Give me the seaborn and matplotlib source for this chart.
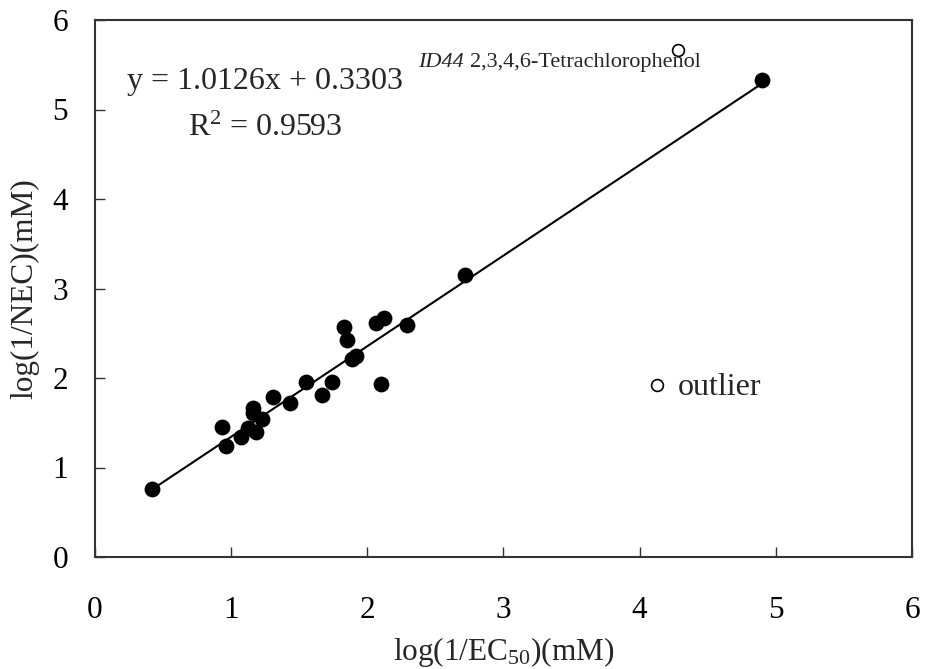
import matplotlib
matplotlib.use("Agg")
import matplotlib.pyplot as plt
import seaborn as sns
import numpy as np
import pandas as pd

# log(1/EC50) vs log(1/NEC) for the fitted compounds
ec50 = [0.42, 0.93, 0.96, 1.07, 1.12, 1.18, 1.16, 1.16, 1.23, 1.31, 1.43,
        1.55, 1.67, 1.74, 1.83, 1.85, 1.89, 1.92, 2.06, 2.12, 2.10, 2.29,
        2.72, 4.90]
nec = [0.76, 1.45, 1.24, 1.34, 1.44, 1.40, 1.67, 1.61, 1.54, 1.79, 1.72,
       1.95, 1.81, 1.96, 2.57, 2.42, 2.21, 2.25, 2.61, 2.67, 1.93, 2.59,
       3.15, 5.33]

# excluded points (open circles)
out_ec50 = [4.28, 4.13]
out_nec = [5.67, 1.92]

# regression fit
slope = 1.0126
intercept = 0.3303
r2 = 0.9593

sns.set_style("ticks")
plt.rcParams["font.family"] = ["Liberation Serif", "DejaVu Serif"]
plt.rcParams["mathtext.fontset"] = "custom"
plt.rcParams["mathtext.rm"] = "Liberation Serif"
plt.rcParams["mathtext.it"] = "Liberation Serif:italic"

fig = plt.figure(figsize=(9.25, 6.69), dpi=100)
ax = fig.add_axes([95 / 925, 1 - 557 / 669, (912 - 95) / 925, (557 - 20) / 669])

df = pd.DataFrame({"x": ec50, "y": nec})
xl = np.array([min(ec50), max(ec50)])
line = pd.DataFrame({"x": xl, "y": slope * xl + intercept})
sns.lineplot(data=line, x="x", y="y", ax=ax, color="black", linewidth=1.5)
sns.scatterplot(data=df, x="x", y="y", ax=ax, color="black", s=130,
                edgecolor="black", linewidth=0, zorder=3)
odf = pd.DataFrame({"x": out_ec50, "y": out_nec})
sns.scatterplot(data=odf, x="x", y="y", ax=ax, facecolor="white",
                edgecolor="black", s=72, linewidth=1.2, zorder=3)

ax.set_xlim(0, 6)
ax.set_ylim(0, 6)
ax.set_xticks(range(7))
ax.set_yticks(range(7))
ax.tick_params(direction="in", length=7.5, width=1, labelsize=22.5,
               colors="#333333", labelcolor="black")
ax.tick_params(axis="x", pad=28)
ax.tick_params(axis="y", pad=19.5)
for s in ax.spines.values():
    s.set_linewidth(1.5)
    s.set_color("#333333")

ax.set_xlabel("log(1/EC$_{50}$)(mM)", fontsize=22.5, labelpad=7)
ax.set_ylabel("log(1/NEC)(mM)", fontsize=22.5)
ax.yaxis.set_label_coords(-0.0685, 0.5)

ax.text(0.235, 5.31, f"y = {slope:.4f}x + {intercept:.4f}", fontsize=23,
        va="center", ha="left")
ax.text(0.684, 4.79, f"R$^2$ = {r2:.4f}", fontsize=23, va="center", ha="left")
tag = ax.text(2.375, 5.52, "ID44", fontsize=16, style="italic",
              va="center", ha="left")
ax.annotate("2,3,4,6-Tetrachlorophenol", xy=(1, 0.5), xycoords=tag,
            xytext=(4, 0), textcoords="offset points", fontsize=16,
            va="center", ha="left")
ax.text(4.28, 1.89, "outlier", fontsize=23, va="center", ha="left")

fig.savefig("out.png", dpi=100)
